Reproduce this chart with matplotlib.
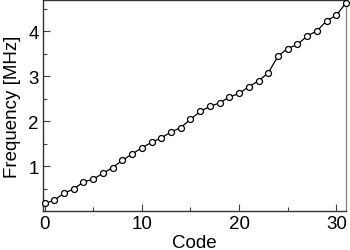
import matplotlib
matplotlib.use('Agg')
import matplotlib.pyplot as plt
import numpy as np
from matplotlib.ticker import MultipleLocator

code = list(range(32))
freq_mhz = [0.17, 0.24, 0.40, 0.49, 0.65, 0.71, 0.84, 0.97, 1.13, 1.27,
            1.41, 1.53, 1.63, 1.76, 1.86, 2.04, 2.22, 2.33, 2.41, 2.54,
            2.62, 2.77, 2.90, 3.08, 3.45, 3.62, 3.71, 3.90, 4.01, 4.24,
            4.36, 4.64]
xticks = [0, 10, 20, 30]
yticks = [1, 2, 3, 4]

plt.rcParams['font.family'] = ['Liberation Sans', 'DejaVu Sans']
fs = 13.5

fig = plt.figure(figsize=(3.5, 2.51), dpi=100)
ax = fig.add_axes([0.123, 0.155, 0.866, 0.841])

ax.plot(code, freq_mhz, '-o', color='black', lw=0.9, ms=4.3,
        mfc='white', mec='black', mew=0.9, clip_on=False, zorder=3)

ax.set_xlim(-0.15, 31)
ax.set_ylim(0, 4.7)
ax.set_xticks(xticks)
ax.set_yticks(yticks)
ax.xaxis.set_minor_locator(MultipleLocator(5))
ax.yaxis.set_minor_locator(MultipleLocator(0.5))
ax.tick_params(which='major', direction='in', length=5, width=0.8, color='#444444', labelsize=fs)
ax.tick_params(axis='x', which='major', pad=2.5)
ax.tick_params(axis='y', which='major', pad=3)
ax.tick_params(which='minor', direction='in', length=3, width=0.8, color='#444444')

for s in ['left', 'bottom', 'top']:
    ax.spines[s].set_color('#333333')
    ax.spines[s].set_linewidth(1.0)
ax.spines['right'].set_color('#888888')
ax.spines['right'].set_linewidth(1.0)

ax.set_xlabel('Code', fontsize=fs, labelpad=1.5)
ax.set_ylabel('Frequency [MHz]', fontsize=fs, labelpad=5)

fig.savefig('out.png', dpi=100)
